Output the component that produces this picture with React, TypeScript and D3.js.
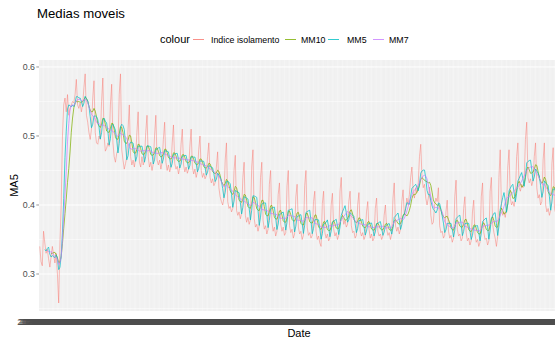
import React from 'react';
import * as d3 from 'd3';

const title = 'Medias moveis';
const legendTitle = 'colour';
const seriesNames = ['Indice isolamento', 'MM10', 'MM5', 'MM7'];
const seriesColors = ['#F8766D', '#7CAE00', '#00BFC4', '#C77CFF'];
const seriesWindows = [1, 10, 5, 7];
const firstDay = new Date(2020, 1, 22);
const yTicks = [0.3, 0.4, 0.5, 0.6];
const yMinor = [0.25, 0.35, 0.45, 0.55];
const xTitle = 'Date';
const yTitle = 'MA5';

// indice de isolamento, daily, one row per week (Sat .. Fri)
const indice = [
  0.340, 0.318, 0.312, 0.362, 0.345, 0.330, 0.336,
  0.322, 0.310, 0.325, 0.340, 0.328, 0.316, 0.330,
  0.300, 0.258, 0.345, 0.400, 0.500, 0.545, 0.555,
  0.535, 0.560, 0.530, 0.540, 0.545, 0.550, 0.548,
  0.560, 0.582, 0.545, 0.540, 0.548, 0.535, 0.545,
  0.570, 0.590, 0.530, 0.520, 0.505, 0.495, 0.510,
  0.555, 0.580, 0.505, 0.490, 0.488, 0.500, 0.495,
  0.550, 0.584, 0.500, 0.478, 0.482, 0.490, 0.485,
  0.545, 0.575, 0.490, 0.470, 0.462, 0.475, 0.480,
  0.560, 0.590, 0.480, 0.465, 0.452, 0.460, 0.470,
  0.510, 0.545, 0.470, 0.458, 0.465, 0.455, 0.468,
  0.505, 0.535, 0.462, 0.455, 0.470, 0.458, 0.465,
  0.505, 0.530, 0.470, 0.455, 0.462, 0.450, 0.460,
  0.500, 0.530, 0.465, 0.458, 0.465, 0.452, 0.462,
  0.495, 0.520, 0.462, 0.450, 0.458, 0.448, 0.455,
  0.490, 0.516, 0.460, 0.452, 0.456, 0.445, 0.455,
  0.488, 0.510, 0.458, 0.448, 0.455, 0.446, 0.452,
  0.485, 0.510, 0.455, 0.445, 0.452, 0.440, 0.448,
  0.480, 0.500, 0.450, 0.440, 0.446, 0.438, 0.442,
  0.470, 0.490, 0.440, 0.432, 0.438, 0.428, 0.432,
  0.455, 0.477, 0.425, 0.412, 0.405, 0.400, 0.410,
  0.465, 0.490, 0.405, 0.395, 0.398, 0.390, 0.395,
  0.450, 0.472, 0.392, 0.385, 0.390, 0.380, 0.388,
  0.440, 0.462, 0.385, 0.375, 0.382, 0.372, 0.378,
  0.455, 0.480, 0.380, 0.368, 0.372, 0.362, 0.370,
  0.440, 0.462, 0.378, 0.365, 0.370, 0.358, 0.365,
  0.430, 0.450, 0.375, 0.362, 0.368, 0.355, 0.362,
  0.415, 0.432, 0.372, 0.362, 0.368, 0.356, 0.360,
  0.428, 0.450, 0.370, 0.360, 0.365, 0.352, 0.358,
  0.412, 0.430, 0.368, 0.358, 0.362, 0.350, 0.356,
  0.428, 0.450, 0.368, 0.356, 0.360, 0.352, 0.356,
  0.405, 0.420, 0.362, 0.350, 0.355, 0.345, 0.340,
  0.402, 0.420, 0.360, 0.352, 0.358, 0.348, 0.352,
  0.400, 0.417, 0.365, 0.355, 0.360, 0.350, 0.356,
  0.420, 0.440, 0.385, 0.372, 0.378, 0.368, 0.372,
  0.405, 0.420, 0.370, 0.360, 0.362, 0.352, 0.356,
  0.400, 0.418, 0.362, 0.355, 0.360, 0.350, 0.355,
  0.390, 0.405, 0.365, 0.352, 0.358, 0.348, 0.352,
  0.395, 0.410, 0.362, 0.355, 0.358, 0.350, 0.355,
  0.385, 0.400, 0.365, 0.356, 0.360, 0.350, 0.358,
  0.410, 0.432, 0.370, 0.362, 0.368, 0.358, 0.365,
  0.405, 0.422, 0.385, 0.395, 0.410, 0.400, 0.415,
  0.440, 0.455, 0.420, 0.410, 0.425, 0.418, 0.430,
  0.470, 0.488, 0.440, 0.425, 0.430, 0.410, 0.400,
  0.410, 0.426, 0.385, 0.372, 0.375, 0.400, 0.410,
  0.405, 0.425, 0.370, 0.360, 0.362, 0.352, 0.356,
  0.390, 0.407, 0.362, 0.352, 0.356, 0.346, 0.352,
  0.412, 0.436, 0.365, 0.355, 0.358, 0.348, 0.352,
  0.395, 0.412, 0.360, 0.348, 0.352, 0.342, 0.348,
  0.390, 0.407, 0.358, 0.346, 0.350, 0.340, 0.346,
  0.412, 0.432, 0.360, 0.350, 0.352, 0.342, 0.348,
  0.420, 0.440, 0.372, 0.360, 0.352, 0.340, 0.355,
  0.440, 0.480, 0.395, 0.385, 0.390, 0.382, 0.395,
  0.455, 0.480, 0.410, 0.400, 0.405, 0.398, 0.410,
  0.470, 0.490, 0.425, 0.420, 0.430, 0.425, 0.435,
  0.495, 0.520, 0.440, 0.432, 0.438, 0.428, 0.435,
  0.470, 0.490, 0.425, 0.410, 0.415, 0.400, 0.405,
  0.465, 0.490, 0.400, 0.390, 0.395, 0.385, 0.392,
  0.460, 0.483, 0.395, 0.388, 0.392, 0.385,
];

const W = 555;
const H = 338;
const panel = { left: 39, right: 559, top: 60, bottom: 311 };
const font = '"Liberation Sans", Arial, sans-serif';

const fmt = d3.timeFormat('%Y-%m-%d');
const dates = d3.timeDay.range(firstDay, d3.timeDay.offset(firstDay, indice.length)).map(fmt);

// trailing moving average, empty until the window is full
const rolling = (w: number) =>
  indice.map((_, i) => (i < w - 1 ? null : d3.mean(indice.slice(i - w + 1, i + 1)) as number));

const legendItems = [
  { key: 193, text: 211 },
  { key: 285, text: 301 },
  { key: 328, text: 347 },
  { key: 373, text: 389 },
];

export default function App() {
  const x = d3.scalePoint<string>().domain(dates).range([panel.left, panel.right]).padding(0.6);
  const y = d3.scaleLinear().domain([0.2464, 0.6101]).range([panel.bottom, panel.top]);

  const series = seriesWindows.map(w => rolling(w));
  const line = d3.line<number | null>()
    .defined(d => d != null)
    .x((_, i) => x(dates[i]) as number)
    .y(d => y(d as number));

  return (
    <svg width={W} height={H} style={{ position: 'absolute', left: 0, top: 0, fontFamily: font }}>
      <rect width={W} height={H} fill="#fff" />
      <text x={37} y={18} fontSize={13.2} fill="#000">{title}</text>

      {/* legend */}
      <text x={160} y={43} fontSize={11} fill="#000">{legendTitle}</text>
      {seriesNames.map((name, i) => (
        <g key={name}>
          <line x1={legendItems[i].key} x2={legendItems[i].key + 11} y1={39.5} y2={39.5}
            stroke={seriesColors[i]} strokeWidth={1} opacity={0.8} />
          <text x={legendItems[i].text} y={43} fontSize={8.8} fill="#000">{name}</text>
        </g>
      ))}

      {/* panel */}
      <rect x={panel.left} y={panel.top} width={panel.right - panel.left} height={panel.bottom - panel.top} fill="#EBEBEB" />
      {yMinor.map(t => (
        <line key={'m' + t} x1={panel.left} x2={panel.right} y1={y(t)} y2={y(t)} stroke="#fff" strokeWidth={0.5} />
      ))}
      {yTicks.map(t => (
        <line key={'M' + t} x1={panel.left} x2={panel.right} y1={y(t)} y2={y(t)} stroke="#fff" strokeWidth={1} />
      ))}
      {dates.map(d => (
        <line key={'v' + d} x1={x(d)} x2={x(d)} y1={panel.top} y2={panel.bottom} stroke="#fff" strokeWidth={0.45} />
      ))}

      {series.map((s, i) => (
        <path key={seriesNames[i]} d={line(s) || ''} fill="none" stroke={seriesColors[i]}
          strokeWidth={i === 0 ? 0.75 : 0.8} opacity={i === 0 ? 0.65 : 0.9} />
      ))}

      {/* y axis */}
      {yTicks.map(t => (
        <g key={'t' + t}>
          <line x1={panel.left - 2.7} x2={panel.left} y1={y(t)} y2={y(t)} stroke="#333" strokeWidth={0.5} />
          <text x={panel.left - 4} y={y(t) + 3} fontSize={8.8} textAnchor="end" fill="#4D4D4D">{t.toFixed(1)}</text>
        </g>
      ))}
      <text transform={`translate(18,${(panel.top + panel.bottom) / 2}) rotate(-90)`} fontSize={11}
        textAnchor="middle" fill="#000">{yTitle}</text>

      {/* x axis: one label per day, they overlap into a band */}
      {dates.map(d => (
        <text key={'x' + d} x={x(d)} y={325} fontSize={8.8} textAnchor="middle" fill="#4D4D4D">{d}</text>
      ))}
      <text x={(panel.left + panel.right) / 2} y={337} fontSize={11} textAnchor="middle" fill="#000">{xTitle}</text>
    </svg>
  );
}
